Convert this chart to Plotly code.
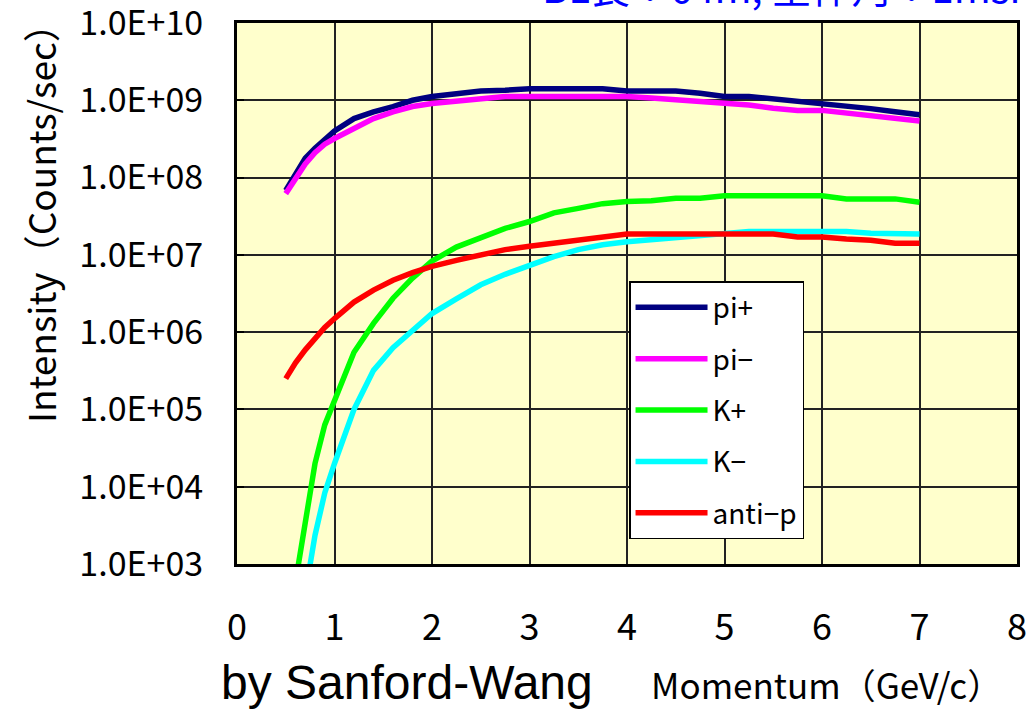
import plotly.graph_objects as go

# Momentum grid (GeV/c)
momentum = [0.5, 0.6, 0.7, 0.8, 0.9, 1.0, 1.2, 1.4, 1.6, 1.8, 2.0, 2.25, 2.5, 2.75,
            3.0, 3.25, 3.5, 3.75, 4.0, 4.25, 4.5, 4.75, 5.0, 5.25, 5.5, 5.75,
            6.0, 6.25, 6.5, 6.75, 7.0]

# Intensities (counts/sec), Sanford-Wang estimate
pi_plus = [6.8e7, 1.12e8, 1.78e8, 2.4e8, 3.1e8, 4.0e8, 5.8e8, 7.1e8, 8.3e8, 1.0e9,
           1.12e9, 1.23e9, 1.32e9, 1.35e9, 1.41e9, 1.41e9, 1.41e9, 1.41e9, 1.32e9,
           1.32e9, 1.32e9, 1.23e9, 1.12e9, 1.12e9, 1.05e9, 9.8e8, 9.1e8, 8.3e8,
           7.8e8, 7.1e8, 6.5e8]
pi_minus = [6.2e7, 1.0e8, 1.5e8, 2.1e8, 2.7e8, 3.2e8, 4.4e8, 5.8e8, 7.1e8, 8.3e8,
            9.1e8, 9.8e8, 1.05e9, 1.12e9, 1.12e9, 1.12e9, 1.12e9, 1.12e9, 1.12e9,
            1.07e9, 1.02e9, 9.8e8, 9.3e8, 8.7e8, 7.9e8, 7.4e8, 7.4e8, 6.9e8,
            6.3e8, 5.9e8, 5.4e8]
k_plus = [1.0e2, 6.3e2, 4.0e3, 2.0e4, 6.3e4, 1.26e5, 5.5e5, 1.3e6, 2.75e6, 5.0e6,
          8.3e6, 1.26e7, 1.66e7, 2.2e7, 2.7e7, 3.5e7, 4.0e7, 4.6e7, 4.9e7, 5.0e7,
          5.4e7, 5.4e7, 5.8e7, 5.8e7, 5.8e7, 5.8e7, 5.8e7, 5.3e7, 5.3e7, 5.3e7, 4.8e7]
k_minus = [1.3e1, 8.0e1, 4.5e2, 2.35e3, 8.3e3, 2.0e4, 1.0e5, 3.2e5, 6.3e5, 1.07e6,
           1.74e6, 2.7e6, 4.1e6, 5.6e6, 7.4e6, 9.5e6, 1.17e7, 1.35e7, 1.48e7, 1.58e7,
           1.66e7, 1.82e7, 1.95e7, 2.0e7, 2.0e7, 2.0e7, 2.0e7, 2.0e7, 1.9e7, 1.86e7, 1.86e7]
anti_p = [2.5e5, 4.0e5, 5.9e5, 8.3e5, 1.15e6, 1.5e6, 2.45e6, 3.5e6, 4.7e6, 5.9e6,
          7.1e6, 8.5e6, 9.8e6, 1.17e7, 1.29e7, 1.41e7, 1.55e7, 1.7e7, 1.86e7, 1.86e7,
          1.86e7, 1.86e7, 1.86e7, 1.86e7, 1.86e7, 1.7e7, 1.7e7, 1.6e7, 1.55e7, 1.41e7, 1.41e7]

series_names = ["pi+", "pi\u2212", "K+", "K\u2212", "anti\u2212p"]
series_values = [pi_plus, pi_minus, k_plus, k_minus, anti_p]
series_colors = ["#000080", "#FF00FF", "#00FF00", "#00FFFF", "#FF0000"]

y_tick_values = [1e3, 1e4, 1e5, 1e6, 1e7, 1e8, 1e9, 1e10]
y_tick_labels = ["1.0E+03", "1.0E+04", "1.0E+05", "1.0E+06",
                 "1.0E+07", "1.0E+08", "1.0E+09", "1.0E+10"]
x_tick_values = [0, 1, 2, 3, 4, 5, 6, 7, 8]

GOTHIC = "Noto Sans CJK JP"

fig = go.Figure()
for name, vals, col in zip(series_names, series_values, series_colors):
    fig.add_trace(go.Scatter(
        x=momentum, y=vals, name=name, mode="lines", legendgroup=name,
        line=dict(color=col, width=5.5),
    ))

fig.update_layout(
    width=1036, height=711,
    margin=dict(l=237, r=19, t=23, b=147, autoexpand=False),
    paper_bgcolor="white",
    plot_bgcolor="#FFFFCC",
    showlegend=True,
    legend=dict(
        x=0.5026, y=0.523, xanchor="left", yanchor="top",
        bgcolor="white", bordercolor="black", borderwidth=1.5,
        font=dict(family=GOTHIC, size=28, color="black"),
        itemwidth=72, tracegroupgap=12,
    ),
    xaxis=dict(
        range=[0, 8], tickvals=x_tick_values, automargin=False,
        showgrid=True, gridcolor="#222222", gridwidth=1.5,
        showline=True, linecolor="black", linewidth=3, mirror=True,
        ticks="", ticklabelstandoff=30,
        tickfont=dict(family=GOTHIC, size=36, color="black"),
        zeroline=False,
    ),
    yaxis=dict(
        type="log", range=[3, 10], automargin=False,
        tickvals=y_tick_values, ticktext=y_tick_labels,
        ticklabeloverflow="allow",
        showgrid=True, gridcolor="#222222", gridwidth=1.5,
        showline=True, linecolor="black", linewidth=3, mirror=True,
        ticks="inside", ticklen=7, tickwidth=2, tickcolor="black",
        ticklabelstandoff=24,
        tickfont=dict(family=GOTHIC, size=34, color="black"),
        zeroline=False,
    ),
)

annotations = [
    dict(text="Intensity\uff08Counts/sec\uff09", x=-0.2526, y=0.647, textangle=-90,
         font=dict(family=GOTHIC, size=37, color="black")),
    dict(text="Momentum\uff08GeV/c\uff09", x=0.756, y=-0.2218,
         font=dict(family=GOTHIC, size=35, color="black")),
    dict(text="by Sanford-Wang", x=0.218, y=-0.2717, yanchor="bottom",
         font=dict(family="Liberation Sans", size=48, color="black")),
    dict(text="BL長：64m, 全体角：1msr", x=0.388, y=1.012, xanchor="left", yanchor="bottom",
         font=dict(family=GOTHIC, size=40, color="#0000FF")),
]
for a in annotations:
    a.setdefault("xanchor", "center")
    a.setdefault("yanchor", "middle")
    fig.add_annotation(xref="paper", yref="paper", showarrow=False, **a)

fig.write_html("out.html")
